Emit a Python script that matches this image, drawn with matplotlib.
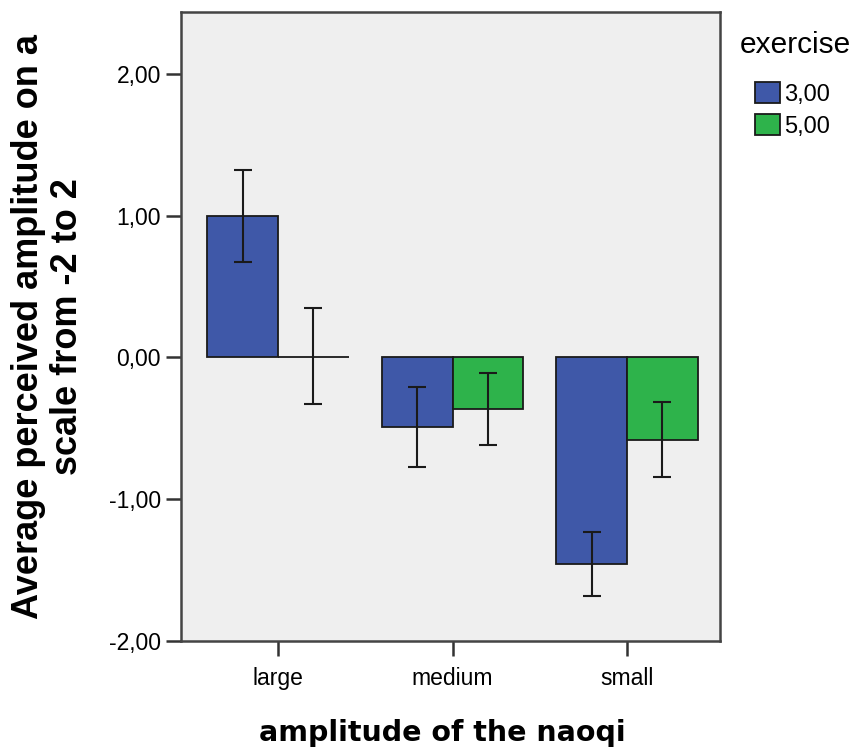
import matplotlib
matplotlib.use("Agg")
import matplotlib.pyplot as plt
import numpy as np

categories = ["large", "medium", "small"]
series_names = ["3,00", "5,00"]
means_3 = [1.00, -0.49, -1.46]
means_5 = [0.00, -0.36, -0.585]
err_lo_3 = [0.67, -0.775, -1.683]
err_hi_3 = [1.324, -0.211, -1.232]
err_lo_5 = [-0.331, -0.62, -0.845]
err_hi_5 = [0.352, -0.113, -0.317]
yticks = [-2.0, -1.0, 0.0, 1.0, 2.0]
ytick_labels = ["-2,00", "-1,00", "0,00", "1,00", "2,00"]

fig = plt.figure(figsize=(8.61, 7.53), dpi=100)
ax = fig.add_axes([181/861, 1-641/753, (720-181)/861, (641-12)/753])
ax.set_facecolor("#efefef")

x = np.arange(len(categories))
w = 0.405
colors = ["#3f58a8", "#2eb34b"]
for i, (m, lo, hi) in enumerate([(means_3, err_lo_3, err_hi_3), (means_5, err_lo_5, err_hi_5)]):
    pos = x + (i - 0.5) * w
    ax.bar(pos, m, width=w, color=colors[i], edgecolor="#1a1a1a", linewidth=1.3,
           label=series_names[i], zorder=2)
    m = np.array(m); lo = np.array(lo); hi = np.array(hi)
    ax.errorbar(pos, m, yerr=[m - lo, hi - m], fmt="none", ecolor="#1a1a1a",
                elinewidth=1.5, capsize=6.5, capthick=1.5, zorder=3)

tick_font = "Liberation Sans"
ax.set_xlim(-0.556, 2.533)
ax.set_ylim(-2.0, 2.437)
ax.set_xticks(x)
ax.set_xticklabels(categories, fontsize=16.5, family=tick_font)
ax.set_yticks(yticks)
ax.set_yticklabels(ytick_labels, fontsize=16.5, family=tick_font)
ax.tick_params(axis="both", length=10.5, width=1.8, color="#333333", pad=4)
ax.tick_params(axis="x", pad=8.5)
for s in ax.spines.values():
    s.set_color("#444444")
    s.set_linewidth(1.8)

fig.text(442/861, 1-733/753, "amplitude of the naoqi", fontsize=20.5, fontweight="bold",
         family="DejaVu Sans", ha="center", va="center")
fig.text(48/861, 1-327/753, "Average perceived amplitude on a\nscale from -2 to 2",
         fontsize=26, fontweight="bold", family="Liberation Sans", rotation=90,
         ha="center", va="center", multialignment="center", linespacing=1.15)

fig.text(740/861, 1-45/753, "exercise", fontsize=21.5, family=tick_font,
         ha="left", va="center")
leg = fig.legend(loc="upper left",
                 bbox_to_anchor=(755/861, 1-82/753),
                 frameon=False, prop={"family": tick_font, "size": 17},
                 handlelength=1.05, handleheight=1.0, handletextpad=0.2,
                 labelspacing=0.35, borderaxespad=0, borderpad=0)

fig.savefig("out.png", dpi=100)
